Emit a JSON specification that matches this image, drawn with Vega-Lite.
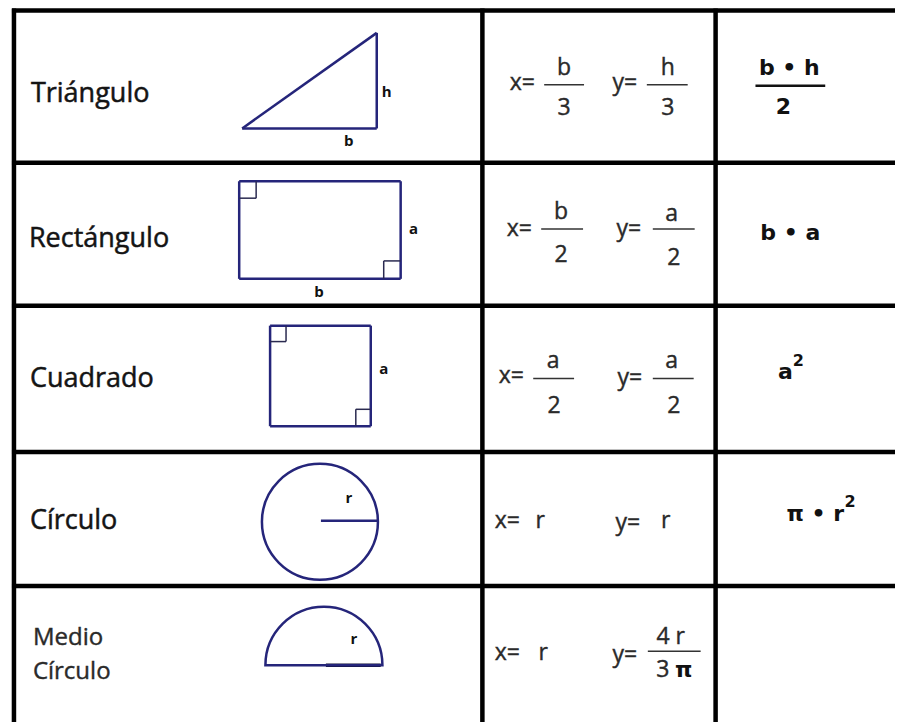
{
  "$schema": "https://vega.github.io/schema/vega-lite/v6.json",
  "width": 898,
  "height": 725,
  "padding": 0,
  "autosize": {"type": "fit", "contains": "padding"},
  "background": "white",
  "config": {"view": {"stroke": null}},
  "datasets": {
    "grid": [
      {"x": 14, "y": 8.5, "x2": 14, "y2": 725},
      {"x": 484, "y": 8.5, "x2": 484, "y2": 725},
      {"x": 718, "y": 8.5, "x2": 718, "y2": 725},
      {"x": 12, "y": 10.5, "x2": 898, "y2": 10.5},
      {"x": 12, "y": 163.5, "x2": 898, "y2": 163.5},
      {"x": 12, "y": 307, "x2": 898, "y2": 307},
      {"x": 12, "y": 454, "x2": 898, "y2": 454},
      {"x": 12, "y": 588.5, "x2": 898, "y2": 588.5}
    ],
    "shapes": [
      {"x": 243, "y": 129, "x2": 378, "y2": 129},
      {"x": 378, "y": 129, "x2": 378, "y2": 33},
      {"x": 243, "y": 129, "x2": 378, "y2": 33},
      {"x": 240, "y": 182, "x2": 402, "y2": 182},
      {"x": 402, "y": 182, "x2": 402, "y2": 280},
      {"x": 402, "y": 280, "x2": 240, "y2": 280},
      {"x": 240, "y": 280, "x2": 240, "y2": 182},
      {"x": 271, "y": 327, "x2": 372, "y2": 327},
      {"x": 372, "y": 327, "x2": 372, "y2": 428},
      {"x": 372, "y": 428, "x2": 271, "y2": 428},
      {"x": 271, "y": 428, "x2": 271, "y2": 327},
      {"x": 322, "y": 523, "x2": 379, "y2": 523}
    ],
    "thick": [
      {"x": 327, "y": 668, "x2": 382, "y2": 668}
    ],
    "ticks": [
      {"x": 240, "y": 199, "x2": 257, "y2": 199},
      {"x": 257, "y": 182, "x2": 257, "y2": 199},
      {"x": 385, "y": 262, "x2": 402, "y2": 262},
      {"x": 385, "y": 262, "x2": 385, "y2": 280},
      {"x": 271, "y": 343, "x2": 287, "y2": 343},
      {"x": 287, "y": 327, "x2": 287, "y2": 343},
      {"x": 357, "y": 411, "x2": 372, "y2": 411},
      {"x": 357, "y": 411, "x2": 357, "y2": 428}
    ],
    "fracs": [
      {"x": 546, "y": 85, "x2": 586, "y2": 85},
      {"x": 649, "y": 85, "x2": 690, "y2": 85},
      {"x": 543, "y": 230, "x2": 585, "y2": 230},
      {"x": 655, "y": 230, "x2": 697, "y2": 230},
      {"x": 535, "y": 380, "x2": 576, "y2": 380},
      {"x": 655, "y": 380, "x2": 696, "y2": 380},
      {"x": 650, "y": 654, "x2": 703, "y2": 654}
    ],
    "boldfrac": [
      {"x": 758, "y": 86, "x2": 828, "y2": 86}
    ],
    "circle": [{"x": 321, "y": 524}],
    "semi": [{"x": 325, "y": 668}],
    "labels": [
      {"x": 31, "y": 102, "t": "Triángulo"},
      {"x": 29, "y": 248, "t": "Rectángulo"},
      {"x": 30, "y": 389, "t": "Cuadrado"},
      {"x": 30, "y": 531, "t": "Círculo"}
    ],
    "labels2": [
      {"x": 33, "y": 648, "t": "Medio"},
      {"x": 33, "y": 682, "t": "Círculo"}
    ],
    "formulas": [
      {"x": 524, "y": 90, "t": "x="},
      {"x": 566, "y": 75, "t": "b"},
      {"x": 566, "y": 115, "t": "3"},
      {"x": 627, "y": 90, "t": "y="},
      {"x": 670, "y": 75, "t": "h"},
      {"x": 670, "y": 115, "t": "3"},
      {"x": 521, "y": 237, "t": "x="},
      {"x": 563, "y": 220, "t": "b"},
      {"x": 563, "y": 263, "t": "2"},
      {"x": 631, "y": 237, "t": "y="},
      {"x": 674, "y": 222, "t": "a"},
      {"x": 676, "y": 266, "t": "2"},
      {"x": 513, "y": 385, "t": "x="},
      {"x": 555, "y": 370, "t": "a"},
      {"x": 556, "y": 415, "t": "2"},
      {"x": 632, "y": 387, "t": "y="},
      {"x": 674, "y": 370, "t": "a"},
      {"x": 676, "y": 415, "t": "2"},
      {"x": 509, "y": 530, "t": "x="},
      {"x": 542, "y": 530, "t": "r"},
      {"x": 630, "y": 532, "t": "y="},
      {"x": 668, "y": 530, "t": "r"},
      {"x": 509, "y": 663, "t": "x="},
      {"x": 545, "y": 663, "t": "r"},
      {"x": 627, "y": 665, "t": "y="},
      {"x": 673, "y": 647, "t": "4 r"},
      {"x": 665, "y": 680, "t": "3"}
    ],
    "bold": [
      {"x": 792, "y": 75, "t": "b • h"},
      {"x": 786, "y": 114, "t": "2"},
      {"x": 793, "y": 241, "t": "b • a"},
      {"x": 788, "y": 381, "t": "a"},
      {"x": 818, "y": 523, "t": "π • r"},
      {"x": 686, "y": 680, "t": "π"}
    ],
    "sup": [
      {"x": 801, "y": 368, "t": "2"},
      {"x": 853, "y": 509, "t": "2"}
    ],
    "letters": [
      {"x": 388, "y": 97, "t": "h"},
      {"x": 350, "y": 147, "t": "b"},
      {"x": 415, "y": 235, "t": "a"},
      {"x": 320, "y": 298, "t": "b"},
      {"x": 385, "y": 376, "t": "a"},
      {"x": 350, "y": 505, "t": "r"},
      {"x": 355, "y": 647, "t": "r"}
    ]
  },
  "encoding": {
    "x": {"field": "x", "type": "quantitative", "axis": null, "scale": {"domain": [0, 898], "nice": false, "zero": false}},
    "y": {"field": "y", "type": "quantitative", "axis": null, "scale": {"domain": [0, 725], "reverse": true, "nice": false, "zero": false}}
  },
  "layer": [
    {
      "data": {"name": "shapes"},
      "mark": {"type": "rule", "color": "#25257a", "strokeWidth": 2.5},
      "encoding": {"x2": {"field": "x2"}, "y2": {"field": "y2"}}
    },
    {
      "data": {"name": "thick"},
      "mark": {"type": "rule", "color": "#111133", "strokeWidth": 3.5},
      "encoding": {"x2": {"field": "x2"}, "y2": {"field": "y2"}}
    },
    {
      "data": {"name": "ticks"},
      "mark": {"type": "rule", "color": "#2a2a50", "strokeWidth": 1.5},
      "encoding": {"x2": {"field": "x2"}, "y2": {"field": "y2"}}
    },
    {
      "data": {"name": "circle"},
      "mark": {"type": "point", "shape": "circle", "size": 13456, "filled": false, "stroke": "#25257a", "strokeWidth": 2.5, "opacity": 1}
    },
    {
      "data": {"name": "semi"},
      "mark": {"type": "arc", "radius": 58.5, "theta": -1.5708, "theta2": 1.5708, "filled": false, "stroke": "#25257a", "strokeWidth": 2.5}
    },
    {
      "data": {"name": "fracs"},
      "mark": {"type": "rule", "color": "#333333", "strokeWidth": 1.5},
      "encoding": {"x2": {"field": "x2"}, "y2": {"field": "y2"}}
    },
    {
      "data": {"name": "boldfrac"},
      "mark": {"type": "rule", "color": "#111111", "strokeWidth": 2.5},
      "encoding": {"x2": {"field": "x2"}, "y2": {"field": "y2"}}
    },
    {
      "data": {"name": "grid"},
      "mark": {"type": "rule", "color": "#000000", "strokeWidth": 4.5},
      "encoding": {"x2": {"field": "x2"}, "y2": {"field": "y2"}}
    },
    {
      "data": {"name": "labels"},
      "mark": {"type": "text", "font": "Open Sans", "fontSize": 27, "fill": "#141414", "stroke": "#141414", "strokeWidth": 0.5, "align": "left", "baseline": "alphabetic"},
      "encoding": {"text": {"field": "t", "type": "nominal"}}
    },
    {
      "data": {"name": "labels2"},
      "mark": {"type": "text", "font": "Open Sans", "fontSize": 24, "fill": "#2a2a2a", "stroke": "#2a2a2a", "strokeWidth": 0.4, "align": "left", "baseline": "alphabetic"},
      "encoding": {"text": {"field": "t", "type": "nominal"}}
    },
    {
      "data": {"name": "formulas"},
      "mark": {"type": "text", "font": "Open Sans", "fontSize": 23, "fill": "#2a2a2a", "stroke": "#2a2a2a", "strokeWidth": 0.4, "align": "center", "baseline": "alphabetic"},
      "encoding": {"text": {"field": "t", "type": "nominal"}}
    },
    {
      "data": {"name": "bold"},
      "mark": {"type": "text", "font": "DejaVu Sans", "fontWeight": "bold", "fontSize": 22, "color": "#111111", "align": "center", "baseline": "alphabetic"},
      "encoding": {"text": {"field": "t", "type": "nominal"}}
    },
    {
      "data": {"name": "sup"},
      "mark": {"type": "text", "font": "DejaVu Sans", "fontWeight": "bold", "fontSize": 16, "color": "#111111", "align": "center", "baseline": "alphabetic"},
      "encoding": {"text": {"field": "t", "type": "nominal"}}
    },
    {
      "data": {"name": "letters"},
      "mark": {"type": "text", "font": "Open Sans", "fontWeight": "bold", "fontSize": 15, "color": "#111111", "align": "center", "baseline": "alphabetic"},
      "encoding": {"text": {"field": "t", "type": "nominal"}}
    }
  ]
}
